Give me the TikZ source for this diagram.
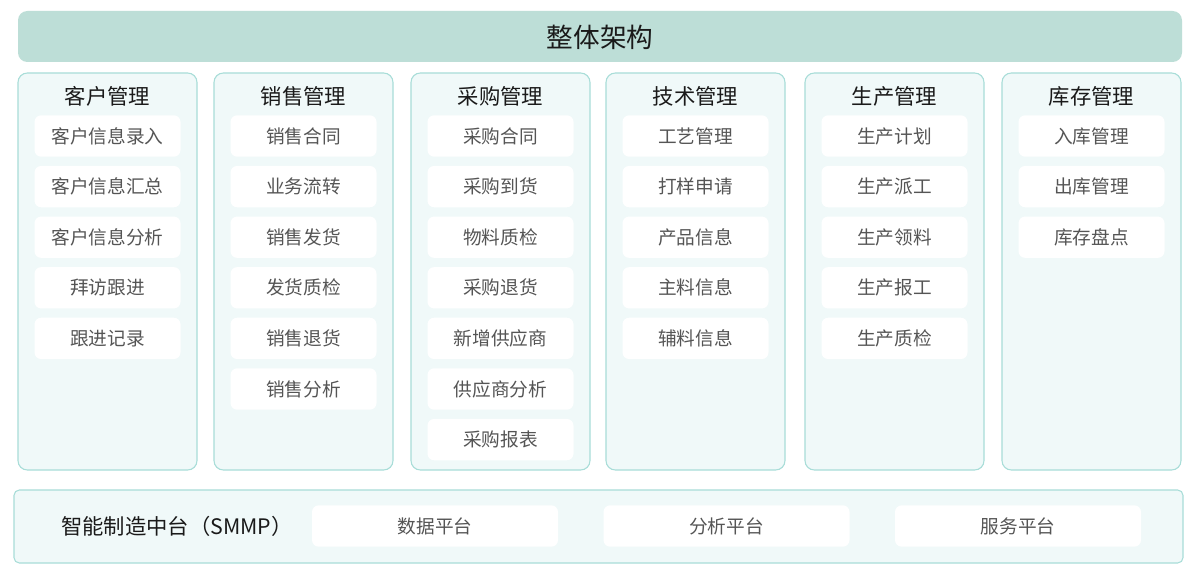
\documentclass[tikz,border=0pt]{standalone}
\usepackage{fontspec}
\setmainfont{Noto Sans CJK SC}
\definecolor{bannerfill}{HTML}{BDDED7}
\definecolor{colfill}{HTML}{F0F9F9}
\definecolor{colborder}{HTML}{A8DDD8}
\definecolor{itemtext}{HTML}{555555}
\definecolor{titletext}{HTML}{1A1A1A}
\tikzset{
  banner/.style={fill=bannerfill, draw=none, rounded corners=7pt},
  column/.style={fill=colfill, draw=colborder, line width=0.8pt, rounded corners=7pt},
  coltitle/.style={font=\fontsize{16}{19}\selectfont, text=titletext, anchor=center},
  item/.style={fill=white, draw=none, rounded corners=5pt, minimum width=109.5pt, minimum height=31pt, font=\fontsize{14}{16}\selectfont, text=itemtext, inner sep=0pt},
  platitem/.style={fill=white, draw=none, rounded corners=5pt, minimum width=184.5pt, minimum height=31pt, font=\fontsize{14}{16}\selectfont, text=itemtext, inner sep=0pt},
}
\begin{document}
\begin{tikzpicture}[x=0.75pt,y=-0.75pt]
\useasboundingbox (0,0) rectangle (1200,581);
\fill[white] (0,0) rectangle (1200,581);
% banner
\draw[banner] (18,11) rectangle (1182,62);
\node[font=\fontsize{20}{23}\selectfont, text=titletext] (top) at (600,37) {整体架构};
% columns
\foreach \i/\x/\t in {1/18/客户管理, 2/214/销售管理, 3/411/采购管理, 4/606/技术管理, 5/805/生产管理, 6/1002/库存管理}{
  \draw[column] (\x,73) rectangle ++(179,397);
  \node[coltitle] (t\i) at (\x+89.5,96) {\t};
}
% items
\foreach \i/\t in {1/客户信息录入, 2/客户信息汇总, 3/客户信息分析, 4/拜访跟进, 5/跟进记录}{
  \node[item] (a\i) at (107.5,{136+50.6*(\i-1)}) {\t};
}
\foreach \i/\t in {1/销售合同, 2/业务流转, 3/销售发货, 4/发货质检, 5/销售退货, 6/销售分析}{
  \node[item] (b\i) at (303.5,{136+50.6*(\i-1)}) {\t};
}
\foreach \i/\t in {1/采购合同, 2/采购到货, 3/物料质检, 4/采购退货, 5/新增供应商, 6/供应商分析, 7/采购报表}{
  \node[item] (c\i) at (500.5,{136+50.6*(\i-1)}) {\t};
}
\foreach \i/\t in {1/工艺管理, 2/打样申请, 3/产品信息, 4/主料信息, 5/辅料信息}{
  \node[item] (d\i) at (695.5,{136+50.6*(\i-1)}) {\t};
}
\foreach \i/\t in {1/生产计划, 2/生产派工, 3/生产领料, 4/生产报工, 5/生产质检}{
  \node[item] (e\i) at (894.5,{136+50.6*(\i-1)}) {\t};
}
\foreach \i/\t in {1/入库管理, 2/出库管理, 3/库存盘点}{
  \node[item] (f\i) at (1091.5,{136+50.6*(\i-1)}) {\t};
}
% bottom platform
\draw[column, rounded corners=4pt] (14,490) rectangle (1183,563);
\node[font=\fontsize{16}{19}\selectfont, text=titletext] (plat) at (177,526) {智能制造中台（SMMP）};
\node[platitem] (p1) at (435,526) {数据平台};
\node[platitem] (p2) at (726.5,526) {分析平台};
\node[platitem] (p3) at (1018,526) {服务平台};
\end{tikzpicture}
\end{document}
